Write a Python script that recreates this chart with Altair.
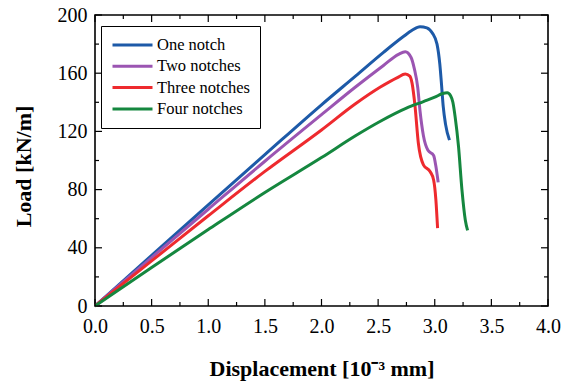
import altair as alt
import pandas as pd

# Load–displacement curves for specimens with different notch counts
series_names = ["One notch", "Two notches", "Three notches", "Four notches"]
series_colors = ["#1d5aa8", "#9b55b2", "#ee2a2e", "#15873f"]

one_x = [0, 0.5, 1.0, 1.5, 2.0, 2.3, 2.55, 2.72, 2.8, 2.87, 2.93, 2.98, 3.02, 3.045, 3.06, 3.075, 3.095, 3.13]
one_y = [0, 34.8, 69.5, 104, 138.3, 158, 174.5, 185, 189.5, 192, 191.2, 187.5, 180, 166, 152, 137, 125, 114]

two_x = [0, 0.5, 1.0, 1.5, 2.0, 2.3, 2.55, 2.68, 2.74, 2.79, 2.82, 2.85, 2.87, 2.90, 2.94, 2.99, 3.01, 3.03]
two_y = [0, 33.3, 66.5, 99.5, 131.5, 150.5, 165.5, 173, 174.8, 171, 163, 150, 134, 117, 107, 103.5, 96, 85]

three_x = [0, 0.5, 1.0, 1.5, 2.0, 2.3, 2.52, 2.67, 2.74, 2.78, 2.80, 2.825, 2.855, 2.90, 2.96, 2.99, 3.01, 3.025]
three_y = [0, 31, 62, 92.5, 121, 139, 150.5, 157, 159.5, 158, 153, 138, 112, 97, 92.3, 86.6, 73, 53.5]

four_x = [0, 0.5, 1.0, 1.5, 2.0, 2.3, 2.52, 2.75, 2.9, 3.0, 3.07, 3.11, 3.14, 3.16, 3.18, 3.21, 3.24, 3.27, 3.29]
four_y = [0, 26.5, 52.5, 78, 102, 117, 127, 136, 140.5, 143.5, 146, 146.5, 144.5, 140, 130, 109.5, 80, 59, 52]

x_major = [0, 0.5, 1.0, 1.5, 2.0, 2.5, 3.0, 3.5, 4.0]
x_minor = [0.25, 0.75, 1.25, 1.75, 2.25, 2.75, 3.25, 3.75]
y_major = [0, 40, 80, 120, 160, 200]
y_minor = [20, 60, 100, 140, 180]

rows = []
for name, xs, ys in zip(series_names, [one_x, two_x, three_x, four_x], [one_y, two_y, three_y, four_y]):
    for i, (a, b) in enumerate(zip(xs, ys)):
        rows.append({"series": name, "disp": a, "load": b, "idx": i})
df = pd.DataFrame(rows)

W, H = 453, 291
x_scale = alt.Scale(domain=[0, 4], nice=False, zero=False)
y_scale = alt.Scale(domain=[0, 200], nice=False)
FONT = "Liberation Serif"

x_axis = alt.Axis(values=x_major, format=".1f", title="Displacement [10⁻³ mm]",
                  labelPadding=10, labelFlush=False, titleY=69, titleBaseline="alphabetic")
y_axis = alt.Axis(values=y_major, format="d", title="Load [kN/m]",
                  labelPadding=8, labelFlush=False, titleX=-65, titleY=151,
                  titleBaseline="alphabetic")

lines = alt.Chart(df).mark_line(strokeWidth=3, interpolate="monotone").encode(
    x=alt.X("disp:Q", scale=x_scale, axis=x_axis),
    y=alt.Y("load:Q", scale=y_scale, axis=y_axis),
    color=alt.Color("series:N", sort=series_names,
                    scale=alt.Scale(domain=series_names, range=series_colors),
                    legend=alt.Legend(orient="none", legendX=6, legendY=11, title=None,
                                      symbolType="stroke", symbolSize=1600, symbolStrokeWidth=3,
                                      clipHeight=18, rowPadding=3.3, labelFontSize=16.5,
                                      labelFont=FONT, labelColor="black", labelOffset=3,
                                      padding=10, strokeColor="black", fillColor="white")),
    order="idx:Q",
)

xmaj = pd.DataFrame({"disp": x_major})
xmin = pd.DataFrame({"disp": x_minor})
ymaj = pd.DataFrame({"load": y_major})
ymin = pd.DataFrame({"load": y_minor})


def xticks(data, y0, y1):
    return alt.Chart(data).mark_rule(color="black", strokeWidth=1.2).encode(
        x=alt.X("disp:Q", scale=x_scale, axis=x_axis), y=alt.value(y0), y2=alt.value(y1))


def yticks(data, x0, x1):
    return alt.Chart(data).mark_rule(color="black", strokeWidth=1.2).encode(
        y=alt.Y("load:Q", scale=y_scale, axis=y_axis), x=alt.value(x0), x2=alt.value(x1))


ticks = [
    xticks(xmaj, H, H - 7), xticks(xmin, H, H - 4),
    xticks(xmaj, 0, 7), xticks(xmin, 0, 4),
    yticks(ymaj, 0, 7), yticks(ymin, 0, 4),
    yticks(ymaj, W, W - 7), yticks(ymin, W, W - 4),
]

chart = alt.layer(lines, *ticks).properties(
    width=W, height=H,
    padding={"left": 95, "top": 15, "right": 24, "bottom": 79},
    autosize=alt.AutoSizeParams(type="none"),
).configure_view(
    stroke="black", strokeWidth=1.6
).configure_axis(
    labelFont=FONT, labelFontSize=20, labelColor="black",
    titleFont=FONT, titleFontSize=22, titleFontWeight="bold", titleColor="black",
    domain=False, ticks=False, grid=False,
)

chart.save("out.html", embed_options={"renderer": "svg", "actions": False})
